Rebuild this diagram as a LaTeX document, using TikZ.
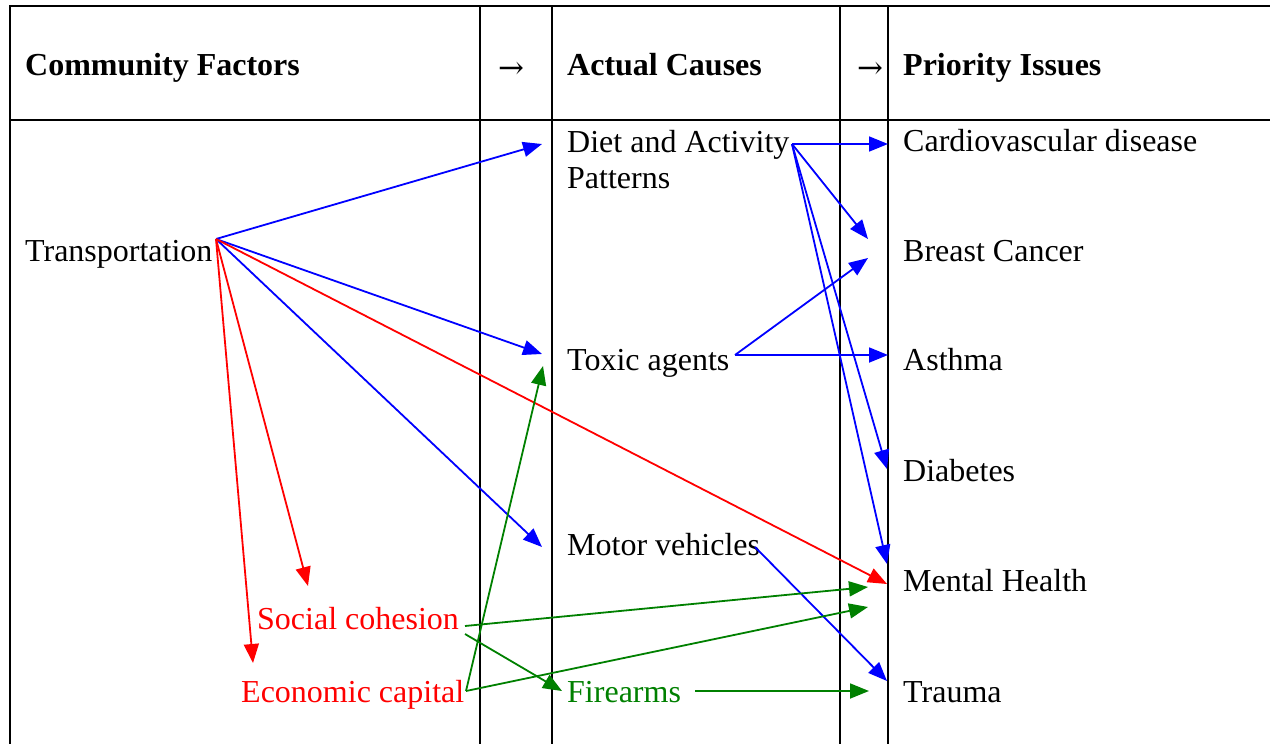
\documentclass[tikz,border=0pt]{standalone}
\usepackage{fontspec}
\setmainfont{Liberation Serif}
\newfontfamily\arrowfont{DejaVu Serif}
\usetikzlibrary{arrows.meta}
\definecolor{linkblue}{RGB}{0,0,255}
\definecolor{linkred}{RGB}{255,0,0}
\definecolor{linkgreen}{RGB}{0,128,0}
\tikzset{
  cell/.style={anchor=base west, inner sep=0pt, font=\fontsize{32}{36}\selectfont},
  head/.style={cell, font=\fontsize{32}{36}\selectfont\bfseries},
  headarrow/.style={anchor=base, inner sep=0pt, font=\fontsize{31}{36}\selectfont\arrowfont},
  link/.style={line width=1.8pt, -{Triangle[length=19pt,width=15pt]}},
  frame/.style={line width=2.4pt},
  rule/.style={line width=1.6pt}
}
\begin{document}
\begin{tikzpicture}[x=1pt,y=-1pt]
			\useasboundingbox (0,0) rectangle (1270,744);
			\draw[frame] (1270,6) -- (10,6) -- (10,744);
			\draw[frame] (10,120) -- (1270,120);
			\foreach \cx in {480,552,840,888} \draw[rule] (\cx,6) -- (\cx,744);
			\node[head] (hComm) at (25,75) {Community Factors};
			\node[headarrow] (hArrA) at (511,78) {→};
			\node[head] (hCause) at (567,75) {Actual Causes};
			\node[headarrow] (hArrB) at (870,78) {→};
			\node[head] (hIssue) at (903,75) {Priority Issues};
			\node[cell] (trans) at (25,261) {Transportation};
			\node[cell, text=linkred] (social) at (257,629) {Social cohesion};
			\node[cell, text=linkred] (econ) at (241,702) {Economic capital};
			\node[cell, align=left, anchor=north west] (diet) at (567,130) {Diet and Activity\\Patterns};
			\node[cell] (toxic) at (567,370) {Toxic agents};
			\node[cell] (motor) at (567,555) {Motor vehicles};
			\node[cell, text=linkgreen] (fire) at (567,702) {Firearms};
			\node[cell] (cardio) at (903,151) {Cardiovascular disease};
			\node[cell] (breast) at (903,261) {Breast Cancer};
			\node[cell] (asthma) at (903,370) {Asthma};
			\node[cell] (diabetes) at (903,481) {Diabetes};
			\node[cell] (mental) at (903,591) {Mental Health};
			\node[cell] (trauma) at (903,702) {Trauma};
			\coordinate (transOut) at (216,239);
			\coordinate (dietOut) at (792,144);
			\coordinate (toxicOut) at (735,355);
			\coordinate (motorOut) at (755,547);
			\coordinate (socialOutA) at (465,626);
			\coordinate (socialOutB) at (465,634);
			\coordinate (econOut) at (466,691);
			\coordinate (fireOut) at (695,691);
			\coordinate (dietIn) at (542,144);
			\coordinate (toxicIn) at (542,354);
			\coordinate (toxicInG) at (543,366);
			\coordinate (motorIn) at (542,547);
			\coordinate (socialIn) at (308,586);
			\coordinate (econIn) at (253,663);
			\coordinate (cardioIn) at (888,144);
			\coordinate (breastInA) at (868,239);
			\coordinate (breastInB) at (868,258);
			\coordinate (asthmaIn) at (888,355);
			\coordinate (diabetesIn) at (887,469);
			\coordinate (mentalInB) at (887,564);
			\coordinate (mentalInR) at (887,584);
			\coordinate (mentalInG) at (868,587);
			\coordinate (mentalInH) at (868,607);
			\coordinate (traumaIn) at (887,681);
			\coordinate (traumaInG) at (869,691);
			\coordinate (fireIn) at (562,691);
			\draw[link, linkblue] (transOut) -- (dietIn);
			\draw[link, linkblue] (transOut) -- (toxicIn);
			\draw[link, linkblue] (transOut) -- (motorIn);
			\draw[link, linkred] (transOut) -- (mentalInR);
			\draw[link, linkred] (transOut) -- (socialIn);
			\draw[link, linkred] (transOut) -- (econIn);
			\draw[link, linkblue] (dietOut) -- (cardioIn);
			\draw[link, linkblue] (dietOut) -- (breastInA);
			\draw[link, linkblue] (dietOut) -- (diabetesIn);
			\draw[link, linkblue] (dietOut) -- (mentalInB);
			\draw[link, linkblue] (toxicOut) -- (breastInB);
			\draw[link, linkblue] (toxicOut) -- (asthmaIn);
			\draw[link, linkblue] (motorOut) -- (traumaIn);
			\draw[link, linkgreen] (socialOutA) -- (mentalInG);
			\draw[link, linkgreen] (socialOutB) -- (fireIn);
			\draw[link, linkgreen] (econOut) -- (toxicInG);
			\draw[link, linkgreen] (econOut) -- (mentalInH);
			\draw[link, linkgreen] (fireOut) -- (traumaInG);
		\end{tikzpicture}
\end{document}
